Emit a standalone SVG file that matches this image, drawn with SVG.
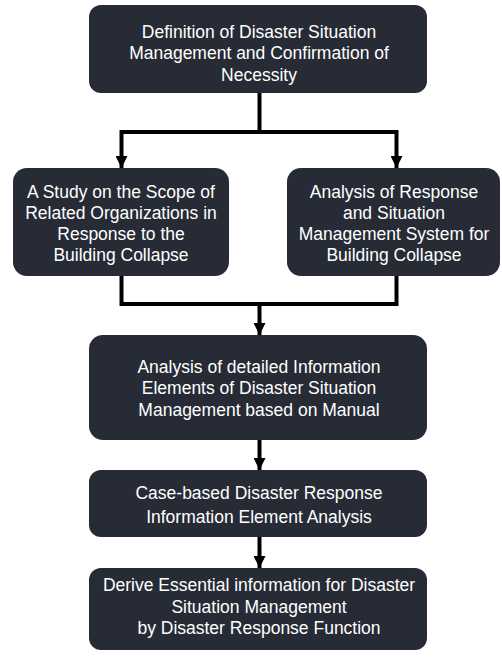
<svg xmlns="http://www.w3.org/2000/svg" width="502" height="659" viewBox="0 0 502 659">
<style>
.box{fill:#262b35}
.t{fill:#ffffff;font-family:"Liberation Sans",Arial,sans-serif;font-size:17.5px;text-anchor:middle}
.c{fill:none;stroke:#000;stroke-width:4}
</style>
<defs>
<marker id="ah" viewBox="0 0 12 12" refX="12" refY="6" markerWidth="12" markerHeight="12" markerUnits="userSpaceOnUse" orient="auto">
<path d="M0,0 L12,6 L0,12 Z" fill="#000"/>
</marker>
</defs>
<rect width="502" height="659" fill="#fff"/>
<g id="connectors">
<path class="c" d="M259.5,93 V132"/>
<path class="c" d="M121.5,132 H396.5"/>
<path class="c" d="M121.5,130 V168" marker-end="url(#ah)"/>
<path class="c" d="M396.5,130 V168" marker-end="url(#ah)"/>
<path class="c" d="M121.5,276 V304 H396.5 V276"/>
<path class="c" d="M259.5,302 V335" marker-end="url(#ah)"/>
<path class="c" d="M259.5,440 V470" marker-end="url(#ah)"/>
<path class="c" d="M259.5,537 V568" marker-end="url(#ah)"/>
</g>
<g id="n1">
<rect class="box" x="89" y="5" width="338" height="88" rx="12"/>
<text class="t" x="259" y="38">Definition of Disaster Situation</text>
<text class="t" x="259" y="59">Management and Confirmation of</text>
<text class="t" x="259" y="81">Necessity</text>
</g>
<g id="n2">
<rect class="box" x="13" y="168" width="216" height="108" rx="14"/>
<text class="t" x="121" y="198">A Study on the Scope of</text>
<text class="t" x="121" y="219">Related Organizations in</text>
<text class="t" x="121" y="240">Response to the</text>
<text class="t" x="121" y="261">Building Collapse</text>
</g>
<g id="n3">
<rect class="box" x="287" y="168" width="213" height="108" rx="14"/>
<text class="t" x="394" y="198">Analysis of Response</text>
<text class="t" x="394" y="219">and Situation</text>
<text class="t" x="394" y="240">Management System for</text>
<text class="t" x="394" y="261">Building Collapse</text>
</g>
<g id="n4">
<rect class="box" x="89" y="335" width="338" height="105" rx="14"/>
<text class="t" x="259" y="373">Analysis of detailed Information</text>
<text class="t" x="259" y="394">Elements of Disaster Situation</text>
<text class="t" x="259" y="416">Management based on Manual</text>
</g>
<g id="n5">
<rect class="box" x="89" y="470" width="338" height="67" rx="12"/>
<text class="t" x="259" y="499">Case-based Disaster Response</text>
<text class="t" x="259" y="523">Information Element Analysis</text>
</g>
<g id="n6">
<rect class="box" x="89" y="568" width="338" height="82" rx="12"/>
<text class="t" x="259" y="591">Derive Essential information for Disaster</text>
<text class="t" x="259" y="613">Situation Management</text>
<text class="t" x="259" y="634">by Disaster Response Function</text>
</g>
</svg>
